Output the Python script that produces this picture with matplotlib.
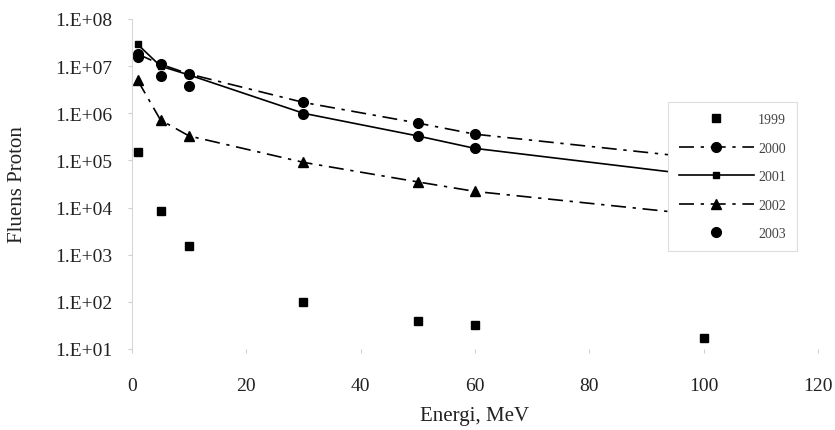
import matplotlib
matplotlib.use("Agg")
import matplotlib.pyplot as plt
import numpy as np
from matplotlib.ticker import FixedLocator, FuncFormatter

# energy points (MeV) and proton fluence per year
energy = [1, 5, 10, 30, 50, 60, 100]
flu_1999 = [1.5e5, 8.3e3, 1.5e3, 1.0e2, 39, 32, 17]
flu_2000 = [1.8e7, 1.1e7, 6.8e6, 1.7e6, 6.2e5, 3.6e5, 1.1e5]
flu_2001 = [2.9e7, 1.0e7, 6.5e6, 1.0e6, 3.3e5, 1.8e5, 4.7e4]
flu_2002 = [5.0e6, 7.2e5, 3.3e5, 9.1e4, 3.5e4, 2.2e4, 6.9e3]
flu_2003 = [1.6e7, 6.2e6, 3.8e6, 9.6e5, 3.3e5, 1.8e5, 4.7e4]

x_ticks = [0, 20, 40, 60, 80, 100, 120]
y_ticks = [1e1, 1e2, 1e3, 1e4, 1e5, 1e6, 1e7, 1e8]

plt.rcParams["font.family"] = ["Liberation Serif", "DejaVu Serif"]

fig = plt.figure(figsize=(8.35, 4.31), dpi=100)
ax = fig.add_axes([0.158, 0.188, 0.8216, 0.7656])

dashdot = (0, (9, 4, 2, 4))
ax.plot(energy, flu_1999, ls="none", marker="s", ms=6, color="black",
        label="1999")
ax.plot(energy, flu_2000, ls=dashdot, lw=1.2, marker="o", ms=7,
        color="black", label="2000")
ax.plot(energy, flu_2001, ls="-", lw=1.2, marker="s", ms=4, color="black",
        label="2001")
ax.plot(energy, flu_2002, ls=dashdot, lw=1.2, marker="^", ms=7,
        color="black", label="2002")
ax.plot(energy, flu_2003, ls="none", marker="o", ms=7, color="black",
        label="2003")

ax.set_yscale("log")
ax.set_xlim(0, 120)
ax.set_ylim(1e1, 1e8)
ax.xaxis.set_major_locator(FixedLocator(x_ticks))
ax.yaxis.set_major_locator(FixedLocator(y_ticks))
ax.yaxis.set_minor_locator(FixedLocator([]))
ax.yaxis.set_major_formatter(
    FuncFormatter(lambda v, p: "1.E+%02d" % int(round(np.log10(v)))))

for s in ["top", "right"]:
    ax.spines[s].set_visible(False)
ax.spines["left"].set_color("#d8d8d8")
ax.spines["bottom"].set_visible(False)
ax.tick_params(axis="both", colors="#d0d0d0", labelcolor="#222222",
               labelsize=14, length=3)
ax.tick_params(axis="x", pad=17)
ax.tick_params(axis="y", pad=11)

ax.set_xlabel("Energi, MeV", fontsize=15, color="#222222", labelpad=9)
ax.set_ylabel("Fluens Proton", fontsize=15, color="#222222", labelpad=20)

leg = ax.legend(loc="upper left", bbox_to_anchor=(0.771, 0.77), fontsize=10,
                handlelength=5.4, handletextpad=0.3, labelspacing=1.12,
                borderpad=0.8, frameon=True, fancybox=False, framealpha=1.0)
leg.get_frame().set_edgecolor("#dddddd")
leg.get_frame().set_linewidth(0.8)
for t in leg.get_texts():
    t.set_color("#444444")

fig.savefig("out.png", dpi=100)
